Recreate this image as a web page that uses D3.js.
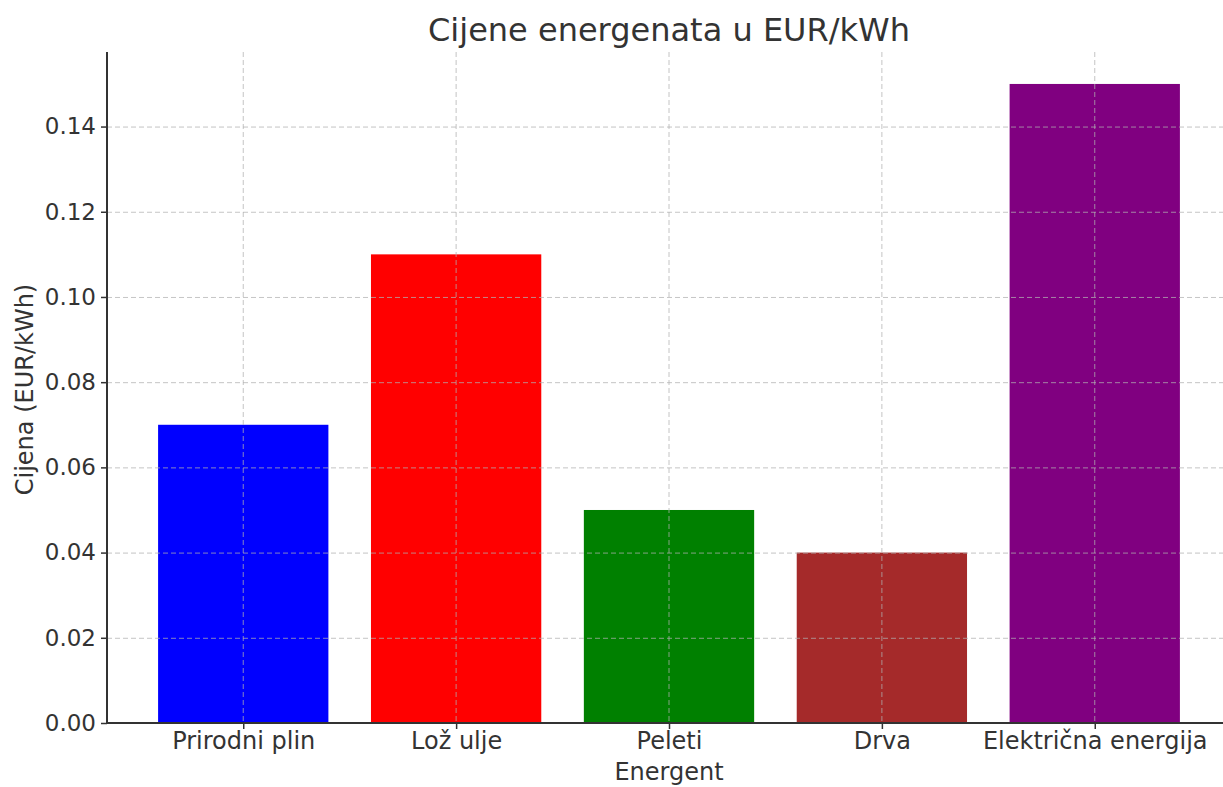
<!DOCTYPE html>
<html><head><meta charset="utf-8">
<script src="https://cdn.jsdelivr.net/npm/d3@7"></script>
<style>body{margin:0;background:#fff}svg{display:block}text{font-family:"DejaVu Sans",sans-serif;fill:#333}</style>
</head><body><svg id="c" width="1223" height="787"></svg>
<script>
const categories = ["Prirodni plin","Lož ulje","Peleti","Drva","Električna energija"];
const values = [0.07, 0.11, 0.05, 0.04, 0.15];
const colors = ["#0000ff","#ff0000","#008000","#a52a2a","#800080"];
const yTicks = [0,0.02,0.04,0.06,0.08,0.10,0.12,0.14];

const svg = d3.select("#c");
const L=107, R=1231, T=52, B=723;
const n=categories.length;
const x = d3.scaleLinear().domain([-0.64, n-1+0.64]).range([L,R]);
const y = d3.scaleLinear().domain([0, 0.1575]).range([B,T]);
const bw = x(0.8)-x(0);

svg.selectAll("rect.bar").data(values).enter().append("rect")
  .attr("x",(d,i)=>x(i-0.4)).attr("y",d=>y(d))
  .attr("width",bw).attr("height",d=>B-y(d)).attr("fill",(d,i)=>colors[i]);

// grid
const g = svg.append("g").attr("stroke","#b0b0b0").attr("stroke-opacity",0.75).attr("stroke-dasharray","5,3").attr("stroke-width",1);
yTicks.forEach(t=>g.append("line").attr("x1",L).attr("x2",R).attr("y1",y(t)+0.5).attr("y2",y(t)+0.5));
categories.forEach((c,i)=>g.append("line").attr("x1",x(i)).attr("x2",x(i)).attr("y1",T).attr("y2",B));

// axes
const ya = svg.append("g").attr("transform",`translate(${L},0)`)
  .call(d3.axisLeft(y).tickValues(yTicks).tickFormat(d3.format(".2f")).tickSize(6).tickPadding(5));
ya.select(".domain").remove();
ya.selectAll("line").attr("stroke","#333").attr("stroke-width",1.5);
ya.selectAll("text").style("font-size","23px").attr("fill","#333");

const xa = svg.append("g").attr("transform",`translate(0,${B})`)
  .call(d3.axisBottom(x).tickValues(d3.range(n)).tickFormat(i=>categories[i]).tickSize(6).tickPadding(3));
xa.select(".domain").remove();
xa.selectAll("line").attr("stroke","#333").attr("stroke-width",1.5);
xa.selectAll("text").style("font-size","24px").attr("fill","#333");

svg.append("line").attr("x1",L).attr("x2",L).attr("y1",T).attr("y2",B).attr("stroke","#333").attr("stroke-width",2);
svg.append("line").attr("x1",L-1).attr("x2",R).attr("y1",B).attr("y2",B).attr("stroke","#333").attr("stroke-width",2);

svg.append("text").attr("x",669).attr("y",41).attr("text-anchor","middle").style("font-size","32px").text("Cijene energenata u EUR/kWh");
svg.append("text").attr("x",669).attr("y",780).attr("text-anchor","middle").style("font-size","24px").text("Energent");
svg.append("text").attr("transform",`translate(33,${(T+B)/2+2}) rotate(-90)`).attr("text-anchor","middle").style("font-size","24px").text("Cijena (EUR/kWh)");
</script></body></html>
